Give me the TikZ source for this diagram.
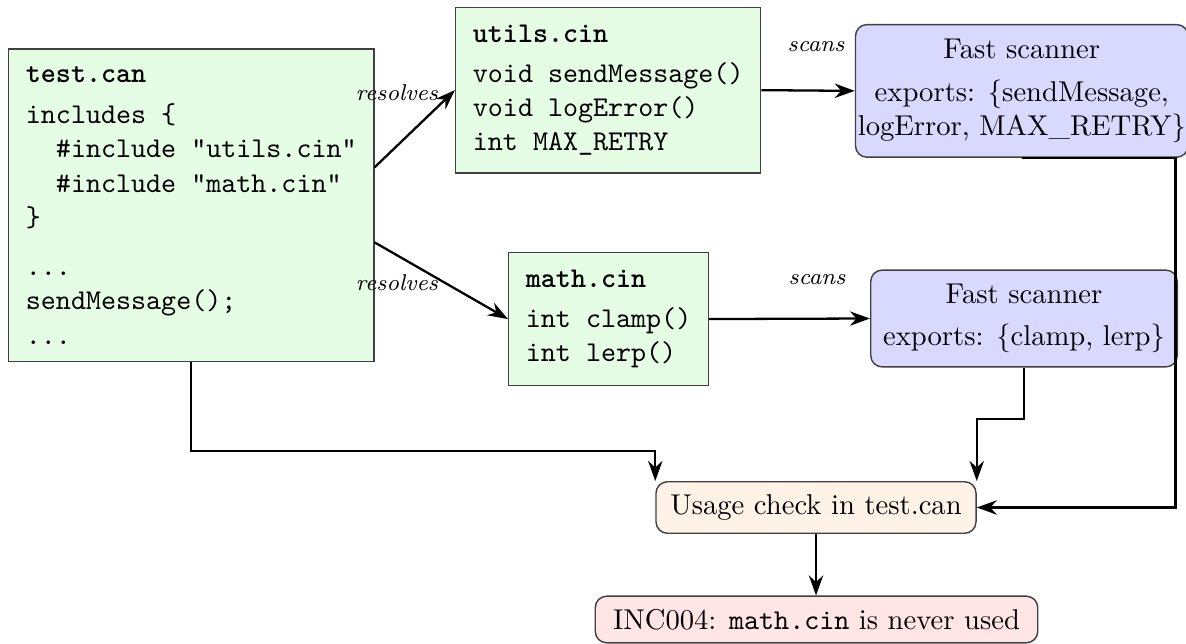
\documentclass[tikz,border=0pt]{standalone}
\usetikzlibrary{arrows.meta,calc}

\definecolor{codefill}{RGB}{229,252,229}
\definecolor{scanfill}{RGB}{217,217,255}
\definecolor{checkfill}{RGB}{255,242,230}
\definecolor{errfill}{RGB}{255,229,229}

\tikzset{
  codebox/.style={draw=black!75, fill=codefill, line width=0.5pt, inner sep=6pt,
    align=left, font=\ttfamily, anchor=north west},
  scanbox/.style={draw=black!75, fill=scanfill, line width=0.5pt, rounded corners=4pt,
    inner xsep=4.3pt, inner ysep=5pt, align=center},
  checkbox/.style={draw=black!75, fill=checkfill, line width=0.5pt, rounded corners=4pt,
    inner xsep=5pt, inner ysep=4.5pt},
  errbox/.style={draw=black!75, fill=errfill, line width=0.5pt, rounded corners=4pt,
    inner xsep=6.2pt, inner ysep=4.5pt},
  flow/.style={-{Stealth[length=7pt,width=5pt]}, thick},
  edgelabel/.style={font=\footnotesize\itshape, inner sep=1pt}
}

\begin{document}
\begin{tikzpicture}[x=0.34918pt, y=-0.34918pt]
  \useasboundingbox (0,0) rectangle (1186,644);

  % source files
  \node[codebox] (tc) at (8,48.3) {\textbf{test.can}\\[2.5pt]
    includes \{\\
    \hphantom{xx}\#include "utils.cin"\\
    \hphantom{xx}\#include "math.cin"\\
    \}\\[5pt]
    ...\\
    sendMessage();\\
    ...};
  \node[codebox] (ut) at (455,6.7) {\textbf{utils.cin}\\[2pt]
    void sendMessage()\\
    void logError()\\
    int MAX\_RETRY};
  \node[codebox] (mc) at (508,252) {\textbf{math.cin}\\[2pt]
    int clamp()\\
    int lerp()};

  % scanners
  \node[scanbox, inner xsep=0.8pt] (s1) at (1021.8,90.9) {Fast scanner\\[3pt]
    exports: \{sendMessage,\\ logError, MAX\_RETRY\}};
  \node[scanbox] (s2) at (1024,318.5) {Fast scanner\\[2.5pt]
    exports: \{clamp, lerp\}};

  % check and result
  \node[checkbox] (ck) at (816,507.5) {Usage check in test.can};
  \node[errbox, anchor=south] (er) at (816.5,643.5) {INC004: \texttt{math.cin} is never used};

  % edge labels
  \node[edgelabel] (lr1) at (397,93) {resolves};
  \node[edgelabel] (lr2) at (397,283) {resolves};
  \node[edgelabel] (ls1) at (816,47) {scans};
  \node[edgelabel] (ls2) at (817,280) {scans};

  % connectors
  \draw[flow] ($(tc.east)+(0,-37.8)$) -- (ut.west);
  \draw[flow] ($(tc.east)+(0,37.2)$) -- (mc.west);
  \draw[flow] (ut.east) -- (s1.west);
  \draw[flow] (mc.east) -- (s2.west);
  \draw[flow] (tc.south) |- ($(ck.north west)+(0,-30)$) -- (ck.north west);
  \draw[flow] (s2.south) |- ($(ck.north east)+(0,-62)$) -- (ck.north east);
  \draw[flow] (s1.south) -| ($(ck.east)+(198.7,0)$) -- (ck.east);
  \draw[flow] (ck.south) -- (ck.south |- er.north);
\end{tikzpicture}
\end{document}
